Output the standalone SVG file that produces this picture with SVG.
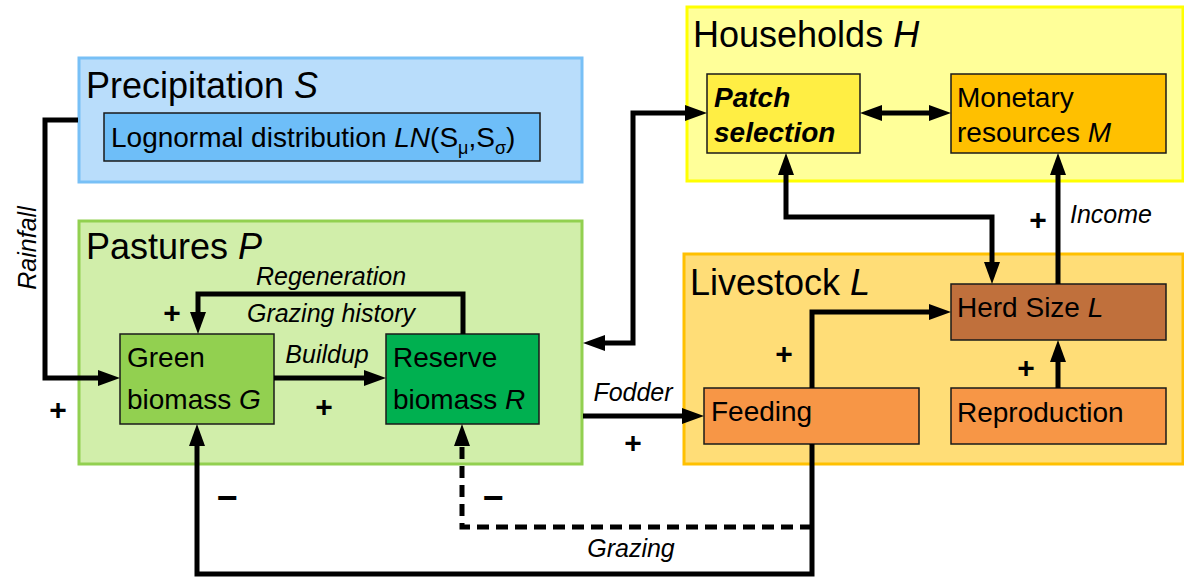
<svg xmlns="http://www.w3.org/2000/svg" width="1184" height="578" viewBox="0 0 1184 578">
<defs>
<marker id="ah" viewBox="0 0 22 16" refX="8" refY="8" markerWidth="22" markerHeight="16" markerUnits="userSpaceOnUse" orient="auto-start-reverse">
<path d="M0,0 L22,8 L0,16 z" fill="#000"/>
</marker>
<style>
text{font-family:"Liberation Sans",Arial,sans-serif;fill:#000}
.title{font-size:36px}
.node{font-size:28px}
.lbl{font-size:25px;font-style:italic}
.sign{font-size:30px;font-weight:bold;text-anchor:middle}
.minus{font-size:36px}
.box{stroke:#1a1a1a;stroke-width:1.5}
.conn{fill:none;stroke:#000;stroke-width:5;stroke-linejoin:miter}
.i{font-style:italic}
</style>
</defs>
<rect width="1184" height="578" fill="#fff"/>

<g id="precipitation">
<rect x="79" y="58" width="503" height="124" fill="#b9ddfb" stroke="#78c0f6" stroke-width="3"/>
<text class="title" x="86" y="98">Precipitation <tspan class="i">S</tspan></text>
<g id="lognormal">
<rect class="box" x="104" y="113" width="436" height="48" fill="#6ebef8"/>
<text x="111" y="147" style="font-size:28px">Lognormal distribution <tspan class="i">LN</tspan>(S<tspan style="font-size:18px" dy="7">μ</tspan><tspan dy="-7">,S</tspan><tspan style="font-size:18px" dy="7">σ</tspan><tspan dy="-7">)</tspan></text>
</g>
</g>

<g id="pastures">
<rect x="79" y="221" width="503" height="243" fill="#d1eeaa" stroke="#92d050" stroke-width="3"/>
<text class="title" x="86" y="259">Pastures <tspan class="i">P</tspan></text>
</g>
<g id="green">
<rect class="box" x="120" y="334" width="154" height="90" fill="#92d050"/>
<text class="node" x="127" y="367">Green</text>
<text class="node" x="127" y="409">biomass <tspan class="i">G</tspan></text>
</g>
<g id="reserve">
<rect class="box" x="386" y="334" width="153" height="90" fill="#00b050"/>
<text class="node" x="393" y="367">Reserve</text>
<text class="node" x="393" y="409">biomass <tspan class="i">R</tspan></text>
</g>

<g id="households">
<rect x="687" y="7" width="496" height="174" fill="#ffff99" stroke="#ffff00" stroke-width="3"/>
<text class="title" x="693" y="47">Households <tspan class="i">H</tspan></text>
</g>
<g id="patch">
<rect class="box" x="707" y="74" width="153" height="79" fill="#ffee44"/>
<text class="node" x="714" y="107" style="font-weight:bold;font-style:italic">Patch</text>
<text class="node" x="714" y="142" style="font-weight:bold;font-style:italic">selection</text>
</g>
<g id="monetary">
<rect class="box" x="951" y="74" width="215" height="79" fill="#ffc000"/>
<text class="node" x="957" y="107">Monetary</text>
<text class="node" x="957" y="142">resources <tspan class="i">M</tspan></text>
</g>

<g id="livestock">
<rect x="684" y="254" width="499" height="210" fill="#ffdd77" stroke="#ffc000" stroke-width="3"/>
<text class="title" x="690" y="295">Livestock <tspan class="i">L</tspan></text>
</g>
<g id="herd">
<rect class="box" x="951" y="284" width="215" height="56" fill="#c0703c"/>
<text class="node" x="957" y="317">Herd Size <tspan class="i">L</tspan></text>
</g>
<g id="feeding">
<rect class="box" x="704" y="388" width="215" height="56" fill="#f79646"/>
<text class="node" x="711" y="421">Feeding</text>
</g>
<g id="reproduction">
<rect class="box" x="951" y="388" width="215" height="56" fill="#f79646"/>
<text class="node" x="957" y="422">Reproduction</text>
</g>

<g id="connectors">
<path class="conn" d="M78,120 H45 V378 H106" marker-end="url(#ah)"/>
<path class="conn" d="M274,378 H372" marker-end="url(#ah)"/>
<path class="conn" d="M463,334 V294 H198 V320" marker-end="url(#ah)"/>
<path class="conn" d="M597,343 H633 V113 H693" marker-start="url(#ah)" marker-end="url(#ah)"/>
<path class="conn" d="M874,113 H937" marker-start="url(#ah)" marker-end="url(#ah)"/>
<path class="conn" d="M786,167 V217 H992 V270" marker-start="url(#ah)" marker-end="url(#ah)"/>
<path class="conn" d="M1058,284 V167" marker-end="url(#ah)"/>
<path class="conn" d="M1058,388 V354" marker-end="url(#ah)"/>
<path class="conn" d="M812,388 V312 H937" marker-end="url(#ah)"/>
<path class="conn" d="M583,416 H690" marker-end="url(#ah)"/>
<path class="conn" d="M812,444 V574 H197 V438" marker-end="url(#ah)"/>
<path class="conn" d="M812,527 H462 V438" stroke-dasharray="12 7" marker-end="url(#ah)"/>
</g>

<g id="labels">
<text class="lbl" transform="translate(36,248) rotate(-90)" text-anchor="middle">Rainfall</text>
<text class="lbl" x="331" y="285" text-anchor="middle">Regeneration</text>
<text class="lbl" x="331" y="322" text-anchor="middle">Grazing history</text>
<text class="lbl" x="327" y="363" text-anchor="middle">Buildup</text>
<text class="lbl" x="633" y="401" text-anchor="middle">Fodder</text>
<text class="lbl" x="631" y="557" text-anchor="middle">Grazing</text>
<text class="lbl" x="1070" y="223">Income</text>
<text class="sign" x="58" y="420">+</text>
<text class="sign" x="172" y="323">+</text>
<text class="sign" x="324" y="417">+</text>
<text class="sign" x="633" y="453">+</text>
<text class="sign" x="784" y="364">+</text>
<text class="sign" x="1026" y="378">+</text>
<text class="sign" x="1038" y="230">+</text>
<text class="sign minus" x="227" y="510">−</text>
<text class="sign minus" x="493" y="510">−</text>
</g>
</svg>
